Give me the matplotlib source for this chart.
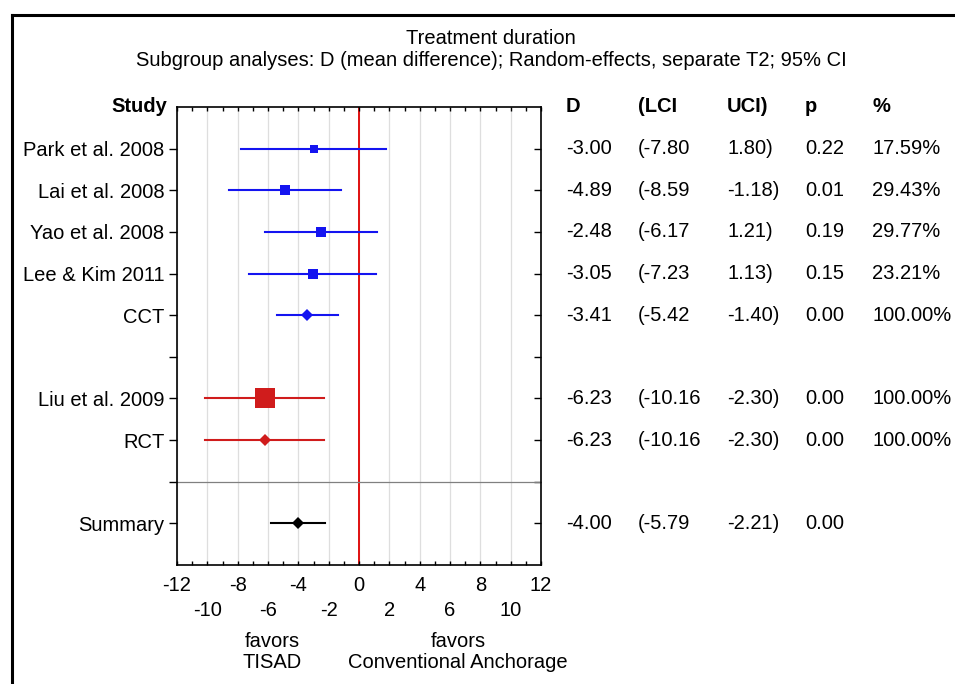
import numpy as np
import matplotlib
matplotlib.use("Agg")
from matplotlib import pyplot as plt
import matplotlib.transforms as mtransforms
from matplotlib.lines import Line2D

plt.rcParams['font.family'] = ['Liberation Sans', 'DejaVu Sans']

# data
studies = ["Park et al. 2008", "Lai et al. 2008", "Yao et al. 2008", "Lee & Kim 2011", "CCT",
           "Liu et al. 2009", "RCT", "Summary"]
rows = [1, 2, 3, 4, 5, 7, 8, 10]
d_vals = [-3.00, -4.89, -2.48, -3.05, -3.41, -6.23, -6.23, -4.00]
lci = [-7.80, -8.59, -6.17, -7.23, -5.42, -10.16, -10.16, -5.79]
uci = [1.80, -1.18, 1.21, 1.13, -1.40, -2.30, -2.30, -2.21]
p_vals = [0.22, 0.01, 0.19, 0.15, 0.00, 0.00, 0.00, 0.00]
weights = [17.59, 29.43, 29.77, 23.21, 100.00, 100.00, 100.00, None]
kinds = ["study", "study", "study", "study", "pooled", "study", "pooled", "pooled"]
colors = ["#1414f0"] * 5 + ["#d01c1c"] * 2 + ["black"]
xticks = np.arange(-12, 13, 2)

FS = 14.5

fig = plt.figure(figsize=(9.55, 6.84), dpi=100)
ax = fig.add_axes([177 / 955, 1 - 565 / 684, 364 / 955, 458 / 684])

ax.set_xlim(-12, 12)
ax.set_ylim(11, 0)

for x in xticks:
    ax.axvline(x, color="#dedede", linewidth=0.9, zorder=0)
ax.axvline(0, color="#e01010", linewidth=1.4, zorder=1)
ax.axhline(9, color="#808080", linewidth=0.9, zorder=1)

for i, y in enumerate(rows):
    ax.plot([lci[i], uci[i]], [y, y], color=colors[i], linewidth=1.5, zorder=2)
    if kinds[i] == "study":
        ax.plot(d_vals[i], y, marker="s", color=colors[i], markersize=1.45 * np.sqrt(weights[i]),
                markeredgewidth=0, zorder=3)
    else:
        ax.plot(d_vals[i], y, marker="D", color=colors[i], markersize=6,
                markeredgewidth=0, zorder=3)

# x axis: staggered labels on two lines
ax.set_xticks(xticks)
ax.set_xticks(np.arange(-12, 13, 1), minor=True)
ax.set_xticklabels([("%d" % v) if k % 2 == 0 else ("\n%d" % v) for k, v in enumerate(xticks)],
                   linespacing=1.4)
ax.tick_params(axis="x", which="both", direction="in", top=True, bottom=True, length=3,
               labelsize=FS, pad=8, width=1)

# y axis
ax.set_yticks(rows[:5] + [6] + rows[5:7] + [9, 10])
ax.set_yticklabels(studies[:5] + [""] + studies[5:7] + ["", studies[7]])
ax.tick_params(axis="y", direction="out", left=True, right=False, length=6, labelsize=FS,
               pad=3, width=1)
sec = ax.secondary_yaxis("right")
sec.set_yticks(rows + [6, 9])
sec.set_yticklabels([])
sec.tick_params(direction="in", length=5, width=1)
sec.spines["right"].set_visible(False)

for s in ax.spines.values():
    s.set_linewidth(1.2)

# header and table
trans = mtransforms.blended_transform_factory(fig.transFigure, ax.transData)
fig.text(167 / 955, 0, "Study", transform=trans, ha="right", va="center",
         fontsize=FS, fontweight="bold")
col_x = [566, 638, 727, 805, 872]
headers = ["D", "(LCI", "UCI)", "p", "%"]
for cx, h in zip(col_x, headers):
    fig.text(cx / 955, 0, h, transform=trans, ha="left", va="center", fontsize=FS,
             fontweight="bold")
for i, y in enumerate(rows):
    cells = ["%.2f" % d_vals[i], "(%.2f" % lci[i], "%.2f)" % uci[i], "%.2f" % p_vals[i],
             "" if weights[i] is None else "%.2f%%" % weights[i]]
    for cx, c in zip(col_x, cells):
        fig.text(cx / 955, y, c, transform=trans, ha="left", va="center", fontsize=FS)

# titles
fig.text(491 / 955, 1 - 38 / 684, "Treatment duration", ha="center", va="center", fontsize=FS)
fig.text(491 / 955, 1 - 60 / 684,
         "Subgroup analyses: D (mean difference); Random-effects, separate T2; 95% CI",
         ha="center", va="center", fontsize=FS)

fig.text(272 / 955, 1 - 652 / 684, "favors\nTISAD", ha="center", va="center", fontsize=FS,
         linespacing=1.1)
fig.text(458 / 955, 1 - 652 / 684, "favors\nConventional Anchorage", ha="center", va="center",
         fontsize=FS, linespacing=1.1)

# frame around the figure
fig.add_artist(Line2D([12 / 955, 12 / 955], [0, 1 - 15 / 684], transform=fig.transFigure,
                      color="black", linewidth=2.2))
fig.add_artist(Line2D([12 / 955, 1], [1 - 15 / 684, 1 - 15 / 684], transform=fig.transFigure,
                      color="black", linewidth=2.2))

fig.savefig("out.png", dpi=100)
